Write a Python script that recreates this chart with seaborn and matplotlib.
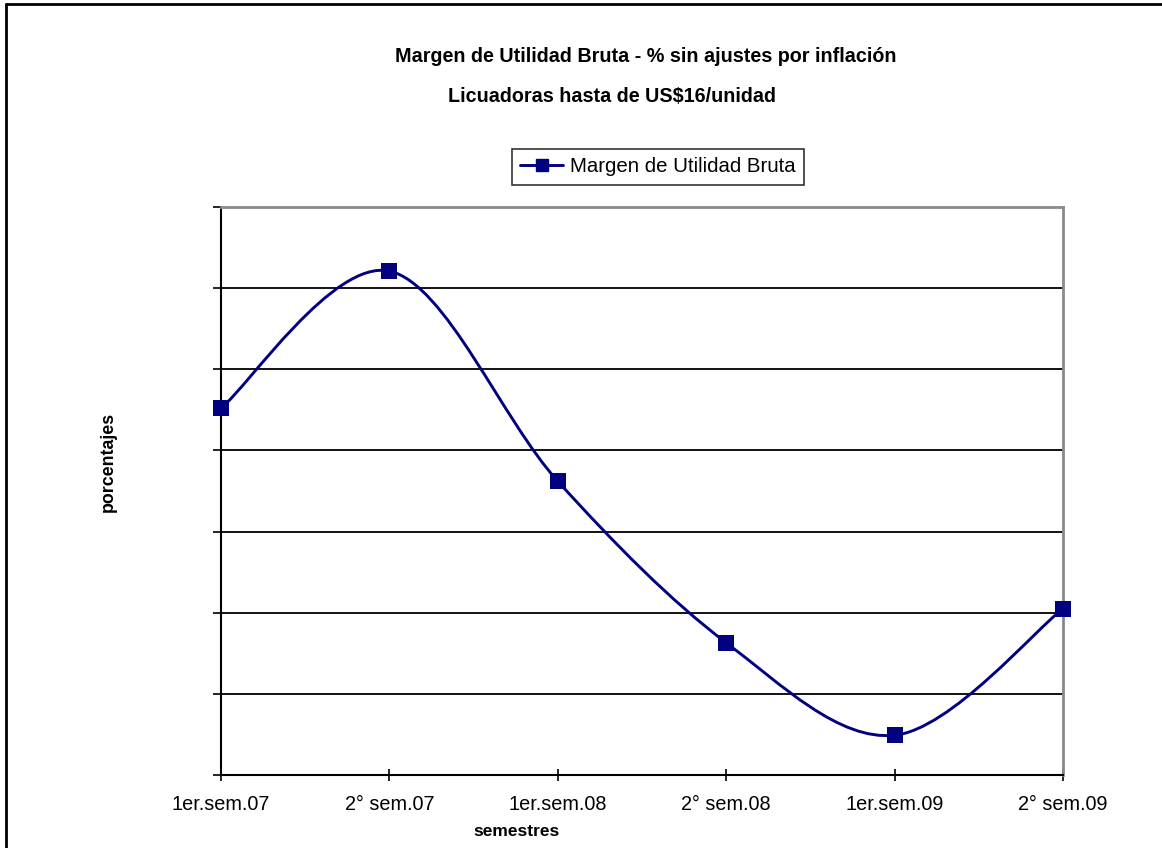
import numpy as np
import pandas as pd
import matplotlib
matplotlib.use("Agg")
import matplotlib.pyplot as plt
import seaborn as sns
from matplotlib.path import Path
from matplotlib.patches import PathPatch
from matplotlib.lines import Line2D

# ---- data ----
categories = ["1er.sem.07", "2° sem.07", "1er.sem.08", "2° sem.08", "1er.sem.09", "2° sem.09"]
margen = [4.52, 6.21, 3.62, 1.63, 0.49, 2.05]
series_name = "Margen de Utilidad Bruta"
title_1 = "Margen de Utilidad Bruta - % sin ajustes por inflación"
title_2 = "Licuadoras hasta de US$16/unidad"
x_label = "semestres"
y_label = "porcentajes"

df = pd.DataFrame({"semestre": categories, "valor": margen, "pos": np.arange(len(categories))})

sns.set_theme(style="white")
plt.rcParams["font.family"] = ["Liberation Sans", "DejaVu Sans"]
plt.rcParams["text.color"] = "black"
plt.rcParams["xtick.color"] = "black"
plt.rcParams["ytick.color"] = "black"
plt.rcParams["axes.labelcolor"] = "black"

NARROW = ["Liberation Sans Narrow", "Liberation Sans", "DejaVu Sans"]
NAVY = "#000080"
W, H = 1162, 848
fig = plt.figure(figsize=(W / 100, H / 100), dpi=100)
fig.patch.set_facecolor("white")
ax = fig.add_axes([221 / W, 1 - 775 / H, (1063 - 221) / W, (775 - 207) / H])

# smooth line (Excel-style bezier smoothing through data points)
xs = df["pos"].to_numpy(float)
ys = df["valor"].to_numpy(float)
pts = np.column_stack([xs, ys])
n = len(pts)
verts = [tuple(pts[0])]
codes = [Path.MOVETO]
for i in range(n - 1):
    p0 = pts[max(i - 1, 0)]
    p1 = pts[i]
    p2 = pts[i + 1]
    p3 = pts[min(i + 2, n - 1)]
    c1 = p1 + (p2 - p0) / 6.0
    c2 = p2 - (p3 - p1) / 6.0
    verts += [tuple(c1), tuple(c2), tuple(p2)]
    codes += [Path.CURVE4] * 3
ax.add_patch(PathPatch(Path(verts, codes), facecolor="none", edgecolor=NAVY, lw=2.1, zorder=3, clip_on=False))

sns.scatterplot(data=df, x="pos", y="valor", marker="s", s=120, color=NAVY, edgecolor=NAVY,
                linewidth=0, ax=ax, zorder=4, clip_on=False, legend=False)

ax.set_xlim(0, len(categories) - 1)
ax.set_ylim(0, 7)
ax.set_xticks(range(len(categories)))
ax.set_xticklabels(categories, fontsize=14.3, color="black")
ax.set_yticks(range(0, 8))
ax.set_yticklabels([])
ax.yaxis.grid(True, color="black", lw=1.3)
ax.xaxis.grid(False)
ax.set_axisbelow(True)
ax.tick_params(axis="x", direction="inout", length=9, width=1.2, color="black", pad=10, bottom=True)
ax.tick_params(axis="y", direction="out", length=5.5, width=1.2, color="black", left=True)

for s in ["left", "bottom"]:
    ax.spines[s].set_color("black")
    ax.spines[s].set_linewidth(1.5)
for s in ["top", "right"]:
    ax.spines[s].set_color("#8a8a8a")
    ax.spines[s].set_linewidth(2)

ax.set_xlabel("")
ax.set_ylabel("")
fig.text(516 / W, 1 - 832 / H, x_label, ha="center", va="center", fontsize=12.5, fontweight="bold",
         family=NARROW, color="black")
fig.text(108 / W, 1 - 462 / H, y_label, ha="center", va="center", rotation=90, fontsize=12.8,
         fontweight="bold", family=NARROW, color="black")

fig.text(646 / W, 1 - 57 / H, title_1, ha="center", va="center", fontsize=14.2, fontweight="bold",
         family=NARROW, color="black")
fig.text(612 / W, 1 - 97 / H, title_2, ha="center", va="center", fontsize=14.2, fontweight="bold",
         family=NARROW, color="black")

handle = Line2D([0], [0], color=NAVY, lw=2.1, marker="s", markersize=9, markerfacecolor=NAVY,
                markeredgecolor=NAVY)
leg = fig.legend([handle], [series_name], loc="center", bbox_to_anchor=(658 / W, 1 - 167 / H),
                 fontsize=14.7, frameon=True, fancybox=False, handlelength=2.1, handletextpad=0.35,
                 borderpad=0.4, borderaxespad=0)
leg.get_frame().set_edgecolor("black")
leg.get_frame().set_linewidth(1.2)
for t in leg.get_texts():
    t.set_color("black")

# outer chart border (only top and left visible in the crop)
fig.add_artist(Line2D([6 / W, 1.01], [1 - 4 / H, 1 - 4 / H], transform=fig.transFigure, color="black", lw=2))
fig.add_artist(Line2D([6 / W, 6 / W], [1 - 4 / H, -0.01], transform=fig.transFigure, color="black", lw=2))

fig.savefig("out.png", dpi=100)
